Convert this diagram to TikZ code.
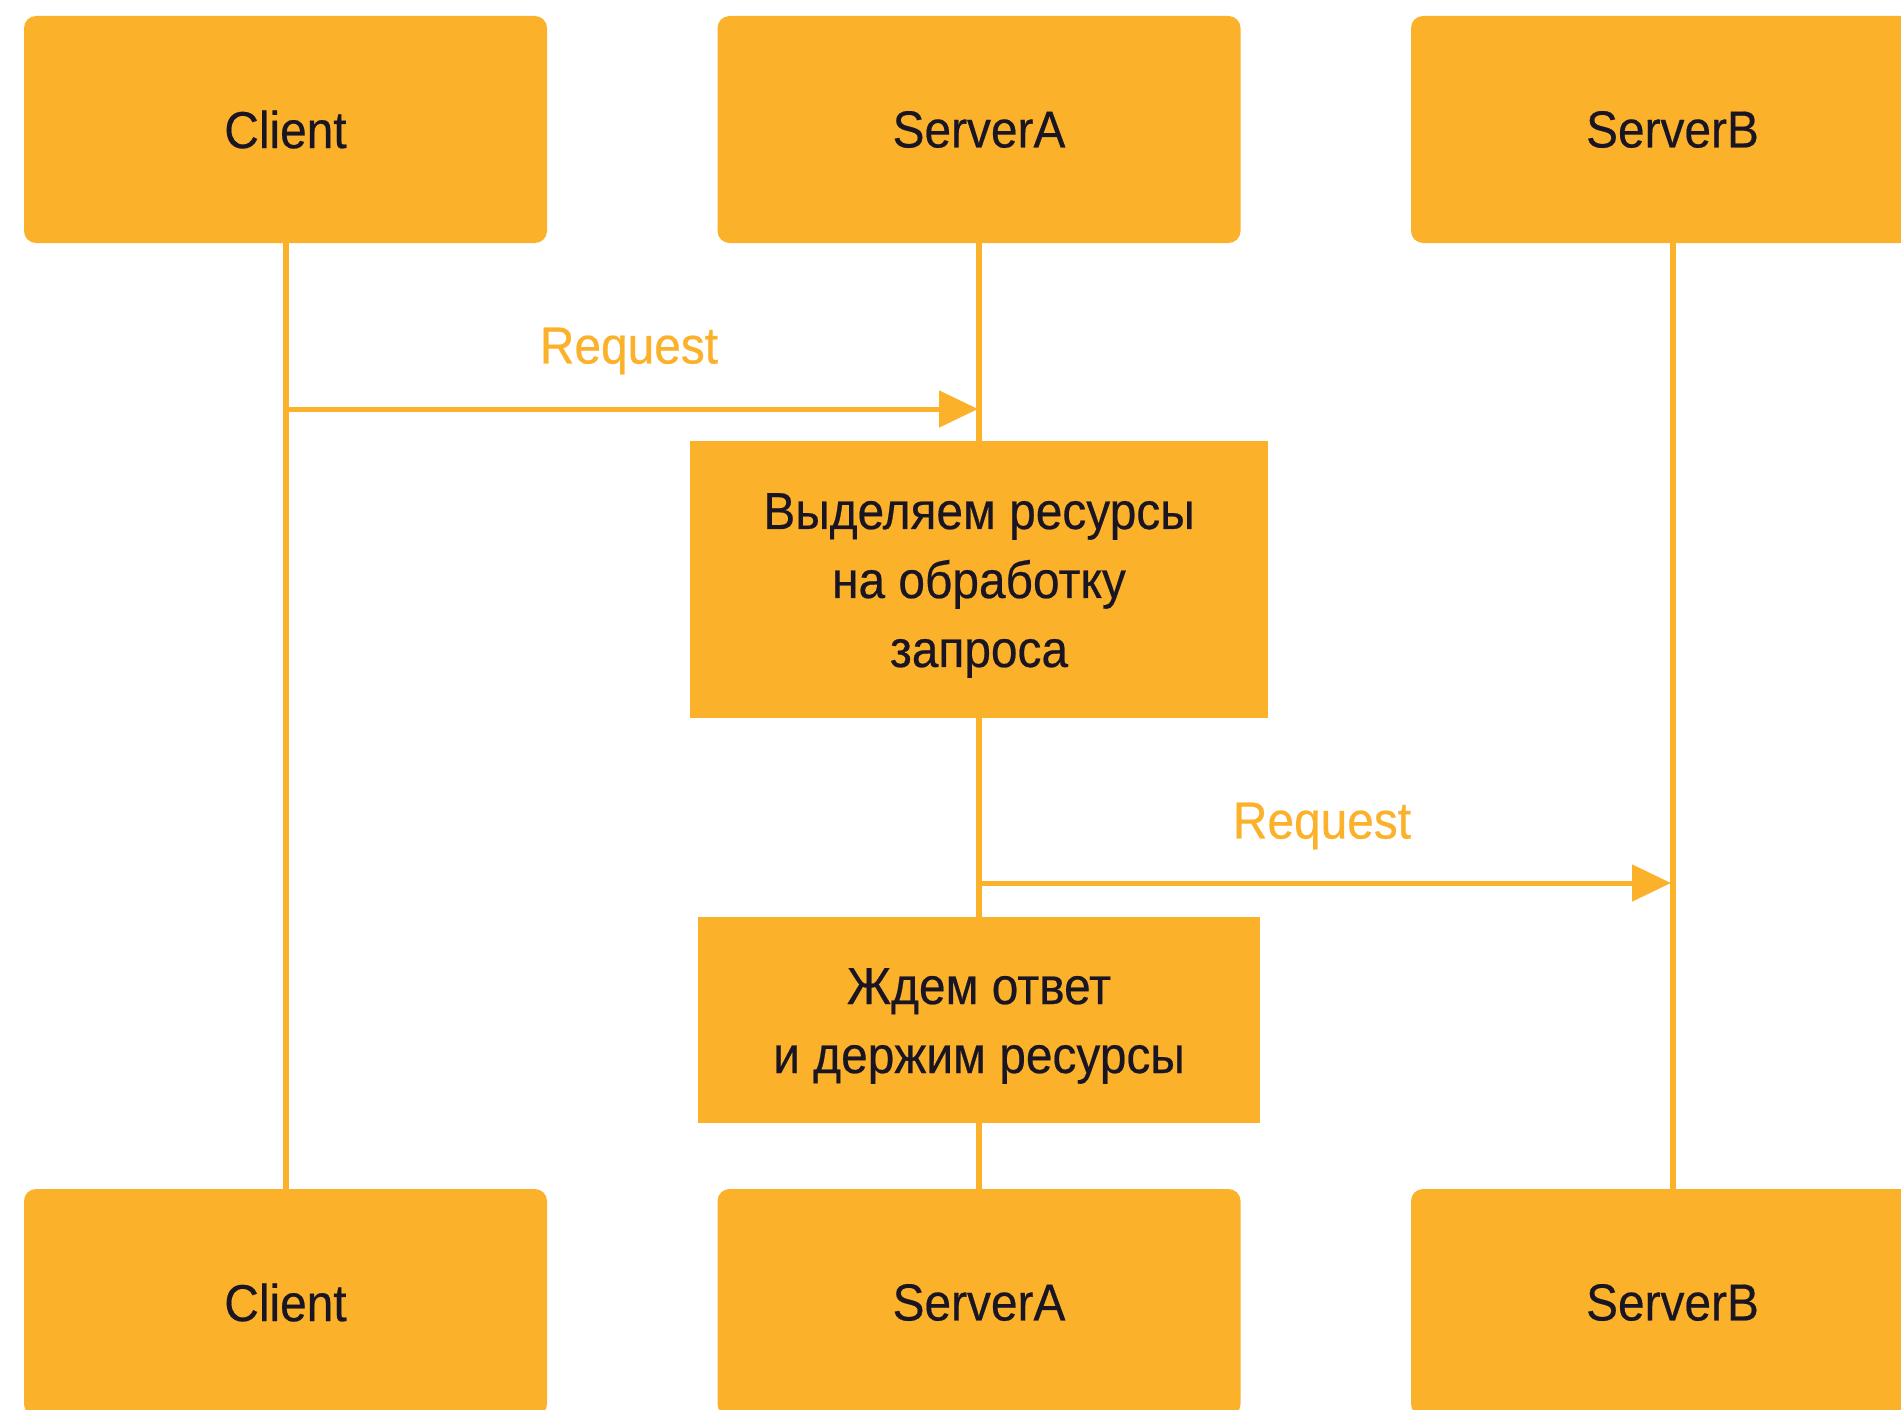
\documentclass[tikz,border=0pt]{standalone}
\usepackage{fontspec}
\setmainfont[FakeStretch=0.92,FakeBold=0.4]{Liberation Sans}
\usetikzlibrary{arrows.meta}
\definecolor{amber}{HTML}{FCB12A}
\definecolor{ink}{HTML}{1A1523}
\begin{document}
\begin{tikzpicture}[x=1pt,y=-1pt,
  actor/.style={fill=amber,rounded corners=12pt,minimum width=523pt,minimum height=227pt,
    inner sep=0pt,text=ink,font=\fontsize{52}{69}\selectfont},
  proc/.style={fill=amber,inner sep=0pt},
  proctext/.style={inner sep=0pt,text=ink,align=center,font=\fontsize{52}{69}\selectfont},
  life/.style={draw=amber,line width=6pt},
  msg/.style={draw=amber,line width=5pt,-{Triangle[length=39pt,width=36pt]}},
  msglabel/.style={text=amber,inner sep=0pt,font=\fontsize{52}{69}\selectfont}]
\clip (0,0) rectangle (1901,1410);
\fill[white] (0,0) rectangle (1901,1410);

% participants, top and bottom
\node[actor] (cT) at (285.5,129.5) {Client};
\node[actor] (aT) at (979,129.5) {ServerA};
\node[actor] (bT) at (1672.5,129.5) {ServerB};
\node[actor] (cB) at (285.5,1302.5) {Client};
\node[actor] (aB) at (979,1302.5) {ServerA};
\node[actor] (bB) at (1672.5,1302.5) {ServerB};

% activity boxes on the ServerA lifeline
\node[proc,minimum width=578pt,minimum height=277pt] (p1) at (979,579.5) {};
\node[proctext] (p1t) at ([yshift=-6pt]p1.center)
  {Выделяем ресурсы\\на обработку\\запроса};
\node[proc,minimum width=562pt,minimum height=206pt] (p2) at (979,1020) {};
\node[proctext] (p2t) at ([yshift=-6pt]p2.center)
  {Ждем ответ\\и держим ресурсы};

% lifelines
\draw[life] (cT.south) -- (cB.north);
\draw[life] (bT.south) -- (bB.north);
\draw[life] (aT.south) -- (p1.north);
\draw[life] (p1.south) -- (p2.north);
\draw[life] (p2.south) -- (aB.north);

% messages
\coordinate (m1s) at (285.5,409);
\coordinate (m1e) at (978,409);
\coordinate (m2s) at (979,883);
\coordinate (m2e) at (1671,883);
\draw[msg] (m1s) -- (m1e);
\draw[msg] (m2s) -- (m2e);
\node[msglabel] (l1) at (629,351) {Request};
\node[msglabel] (l2) at (1322,826) {Request};
\end{tikzpicture}
\end{document}
